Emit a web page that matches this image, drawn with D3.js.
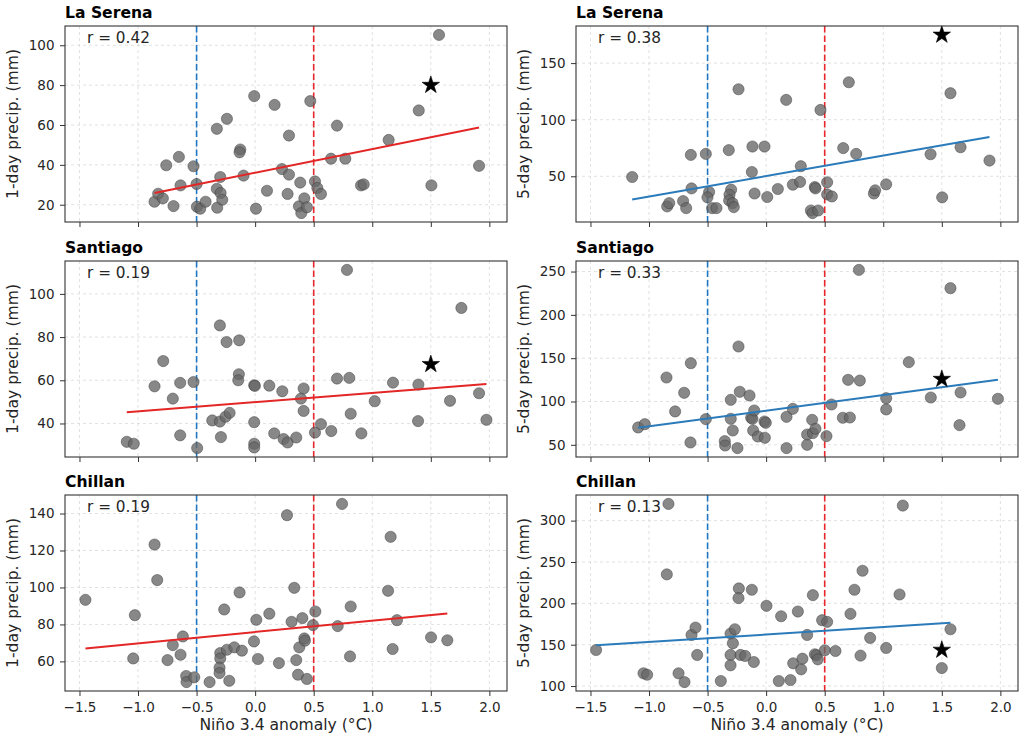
<!DOCTYPE html>
<html>
<head>
<meta charset="utf-8">
<script src="https://cdn.jsdelivr.net/npm/d3@7"></script>
<style>
  body { margin: 0; background: #fff; }
  svg { display: block; font-family: "DejaVu Sans", sans-serif; }
</style>
</head>
<body>
<svg id="chart" width="1024" height="740"></svg>
<script>
// ---------------- DATA ----------------
const stations = ["La Serena", "La Serena", "Santiago", "Santiago", "Chillan", "Chillan"];
const yLabels = ["1-day precip. (mm)", "5-day precip. (mm)", "1-day precip. (mm)", "5-day precip. (mm)", "1-day precip. (mm)", "5-day precip. (mm)"];
const rValues = ["0.42", "0.38", "0.19", "0.33", "0.19", "0.13"];
const xTicks = [-1.5, -1.0, -0.5, 0.0, 0.5, 1.0, 1.5, 2.0];
const yTicks = [
  [20, 40, 60, 80, 100],
  [50, 100, 150],
  [40, 60, 80, 100],
  [50, 100, 150, 200, 250],
  [60, 80, 100, 120, 140],
  [100, 150, 200, 250, 300]
];
const laNinaThreshold = -0.5;
const elNinoThreshold = 0.5;

const laSerena1day = [
  [-0.859,21.5],[-0.828,25.5],[-0.788,23.2],[-0.759,39.8],[-0.697,19.3],[-0.651,44.0],[-0.637,29.7],
  [-0.526,39.3],[-0.500,30.4],[-0.497,19.0],[-0.469,18.0],[-0.423,21.5],[-0.327,58.1],[-0.327,28.0],
  [-0.324,18.5],[-0.298,33.9],[-0.295,25.9],[-0.281,22.5],[-0.241,63.1],[-0.127,47.7],[-0.133,46.3],
  [-0.099,34.6],[-0.008,74.5],[0.007,18.0],[0.101,27.0],[0.166,70.1],[0.229,37.9],[0.289,54.7],
  [0.289,35.1],[0.277,25.4],[0.385,31.1],[0.374,19.2],[0.394,15.8],[0.420,23.2],[0.442,18.7],
  [0.471,72.0],[0.511,31.7],[0.531,28.4],[0.562,25.4],[0.648,43.1],[0.699,59.7],[0.770,43.1],
  [0.904,29.7],[0.927,30.2],[1.140,52.5],[1.397,67.3],[1.505,29.7],[1.570,105.2],[1.912,39.5]
];
const laSerena5day = [
  [-1.144,49.4],[-0.845,23.4],[-0.828,26.3],[-0.709,28.1],[-0.683,21.9],[-0.643,68.9],[-0.637,39.3],
  [-0.515,69.8],[-0.487,36.1],[-0.501,31.4],[-0.461,21.9],[-0.424,21.9],[-0.319,73.1],[-0.299,38.2],
  [-0.313,33.7],[-0.316,28.7],[-0.287,26.3],[-0.276,22.8],[-0.236,126.9],[-0.117,76.3],[-0.122,53.8],
  [-0.099,34.8],[-0.014,76.3],[0.009,31.7],[0.100,38.8],[0.171,117.5],[0.228,42.6],[0.290,45.0],
  [0.296,58.9],[0.416,40.5],[0.421,39.3],[0.382,19.8],[0.396,17.5],[0.444,19.8],[0.464,108.6],
  [0.521,44.7],[0.521,34.0],[0.561,32.2],[0.658,74.9],[0.706,133.1],[0.769,69.8],[0.920,34.8],
  [0.931,37.6],[1.025,42.9],[1.404,69.5],[1.503,31.4],[1.574,123.4],[1.660,75.7],[1.907,63.9]
];
const santiago1day = [
  [-1.096,31.5],[-1.036,30.6],[-0.859,57.2],[-0.785,68.9],[-0.703,51.5],[-0.640,58.8],[-0.640,34.5],
  [-0.526,59.2],[-0.495,28.6],[-0.366,41.4],[-0.301,85.4],[-0.301,40.9],[-0.292,33.7],[-0.253,43.1],
  [-0.244,77.7],[-0.218,44.9],[-0.136,78.5],[-0.139,62.8],[-0.144,60.0],[-0.008,57.7],[-0.002,57.4],
  [-0.008,40.6],[-0.008,30.6],[-0.008,28.9],[0.121,57.5],[0.163,35.4],[0.232,54.9],[0.243,32.8],
  [0.277,31.2],[0.351,33.5],[0.391,51.5],[0.414,56.2],[0.414,45.8],[0.511,35.8],[0.562,39.7],
  [0.650,36.5],[0.699,60.8],[0.784,111.1],[0.804,61.1],[0.816,44.5],[0.907,35.4],[1.021,50.3],
  [1.177,58.9],[1.394,58.0],[1.391,41.1],[1.664,50.5],[1.761,93.5],[1.912,54.0],[1.975,41.7]
];
const santiago5day = [
  [-1.093,70.0],[-1.036,73.8],[-0.851,127.7],[-0.777,88.5],[-0.700,110.0],[-0.643,144.2],[-0.646,52.7],
  [-0.515,79.6],[-0.353,54.2],[-0.350,49.2],[-0.302,101.9],[-0.302,80.0],[-0.285,66.5],[-0.236,163.5],
  [-0.225,111.2],[-0.245,46.2],[-0.142,106.9],[-0.128,81.2],[-0.117,80.0],[-0.102,89.6],[-0.111,66.5],
  [-0.071,59.6],[-0.014,76.9],[-0.003,75.4],[-0.011,58.1],[0.174,82.3],[0.228,91.5],[0.174,46.2],
  [0.350,50.0],[0.350,61.9],[0.393,78.8],[0.399,63.5],[0.421,68.5],[0.515,60.0],[0.558,96.5],
  [0.655,81.2],[0.715,81.5],[0.700,125.0],[0.800,124.2],[0.792,251.9],[1.025,103.8],[1.025,90.8],
  [1.218,145.4],[1.406,104.6],[1.574,230.8],[1.660,110.4],[1.651,72.7],[1.979,103.1]
];
const chillan1day = [
  [-1.449,93.3],[-1.041,61.6],[-1.027,85.0],[-0.859,123.2],[-0.836,104.0],[-0.748,60.7],[-0.703,68.8],
  [-0.637,63.6],[-0.617,73.5],[-0.589,52.1],[-0.586,48.8],[-0.520,51.4],[-0.389,48.8],[-0.298,64.5],
  [-0.298,61.6],[-0.304,56.6],[-0.304,53.7],[-0.264,88.1],[-0.241,66.3],[-0.221,49.5],[-0.178,67.6],
  [-0.133,97.3],[-0.113,65.8],[-0.010,70.8],[0.010,82.5],[0.024,61.3],[0.121,85.8],[0.203,59.1],
  [0.272,139.1],[0.311,81.4],[0.334,99.8],[0.351,60.7],[0.366,52.8],[0.377,67.6],[0.403,83.4],
  [0.420,72.4],[0.425,71.2],[0.442,50.5],[0.514,87.0],[0.494,79.6],[0.705,79.1],[0.742,145.2],
  [0.810,62.7],[0.816,89.7],[1.135,98.2],[1.157,127.4],[1.174,66.7],[1.211,82.3],[1.502,73.0],[1.641,71.4]
];
const chillan5day = [
  [-1.452,143.6],[-1.047,115.4],[-1.016,113.7],[-0.848,235.0],[-0.834,320.2],[-0.748,115.4],[-0.697,104.8],
  [-0.637,161.8],[-0.603,170.7],[-0.589,137.6],[-0.387,106.1],[-0.304,163.4],[-0.267,168.7],[-0.284,151.7],
  [-0.304,137.6],[-0.304,125.1],[-0.233,218.0],[-0.236,206.3],[-0.219,137.6],[-0.179,136.4],[-0.122,216.4],
  [-0.105,129.1],[0.003,197.0],[0.108,106.1],[0.128,184.4],[0.208,107.3],[0.231,127.5],[0.271,190.1],
  [0.299,120.2],[0.310,133.1],[0.350,161.8],[0.399,209.9],[0.416,138.4],[0.430,137.2],[0.441,132.3],
  [0.478,179.6],[0.521,177.6],[0.501,143.2],[0.592,142.4],[0.720,187.3],[0.754,216.4],[0.806,136.8],
  [0.823,239.4],[0.888,158.2],[1.025,146.1],[1.139,210.7],[1.167,318.2],[1.500,121.8],[1.574,168.7]
];
const panelData = [laSerena1day, laSerena5day, santiago1day, santiago5day, chillan1day, chillan5day];

// Highlighted event (star marker): [x, y] or null
const starPoints = [[1.5, 80.0], [1.5, 174.9], [1.5, 67.4], [1.5, 125.8], null, [1.5, 143.6]];

// Linear fit: [slope, intercept]
const fitLines = [[11.84, 36.07], [18.1, 50.2], [4.25, 49.9], [18.03, 89.3], [6.12, 75.9], [8.95, 162.3]];

// ---------------- STYLE / LAYOUT ----------------
const colLeft = [65, 576];
const panelW = 442;
const rowTop = [26, 261, 495];
const panelH = 196;
const fitColors = ["#e32626", "#2b7bba"];
const blueLine = "#1f77c4";
const redLine = "#e8262b";
const textColor = "#262626";

const svg = d3.select("#chart");

// shared x domain with 5% margins
const allX = panelData.flat().map(d => d[0]);
const xMin = d3.min(allX), xMax = d3.max(allX);
const xPad = (xMax - xMin) * 0.05;
const xDomain = [xMin - xPad, xMax + xPad];

panelData.forEach((data, i) => {
  const col = i % 2, row = Math.floor(i / 2);
  const left = colLeft[col], top = rowTop[row];
  const g = svg.append("g").attr("transform", `translate(${left},${top})`);

  const ys = data.map(d => d[1]).concat(starPoints[i] ? [starPoints[i][1]] : []);
  const yMin = d3.min(ys), yMax = d3.max(ys);
  const yPad = (yMax - yMin) * 0.05;

  const x = d3.scaleLinear().domain(xDomain).range([0, panelW]);
  const y = d3.scaleLinear().domain([yMin - yPad, yMax + yPad]).range([panelH, 0]);

  // grid
  const grid = g.append("g").attr("class", "grid");
  grid.selectAll("line.gx").data(xTicks).join("line")
    .attr("x1", d => x(d)).attr("x2", d => x(d)).attr("y1", 0).attr("y2", panelH)
    .attr("stroke", "#d9d9d9").attr("stroke-width", 0.8).attr("stroke-dasharray", "3,3");
  grid.selectAll("line.gy").data(yTicks[i]).join("line")
    .attr("x1", 0).attr("x2", panelW).attr("y1", d => y(d)).attr("y2", d => y(d))
    .attr("stroke", "#d9d9d9").attr("stroke-width", 0.8).attr("stroke-dasharray", "3,3");

  // threshold lines
  [[laNinaThreshold, blueLine], [elNinoThreshold, redLine]].forEach(([v, c]) => {
    g.append("line").attr("x1", x(v)).attr("x2", x(v)).attr("y1", 0).attr("y2", panelH)
      .attr("stroke", c).attr("stroke-width", 1.6).attr("stroke-dasharray", "6.5,3");
  });

  // points
  g.append("g").selectAll("circle").data(data).join("circle")
    .attr("cx", d => x(d[0])).attr("cy", d => y(d[1])).attr("r", 5.6)
    .attr("fill", "#666666").attr("fill-opacity", 0.78)
    .attr("stroke", "#3a3a3a").attr("stroke-opacity", 0.6).attr("stroke-width", 0.8);

  // fit line
  const [m, b] = fitLines[i];
  const xe = d3.extent(data, d => d[0]);
  g.append("line")
    .attr("x1", x(xe[0])).attr("y1", y(m * xe[0] + b))
    .attr("x2", x(xe[1])).attr("y2", y(m * xe[1] + b))
    .attr("stroke", fitColors[col]).attr("stroke-width", 2);

  // star
  if (starPoints[i]) {
    g.append("path")
      .attr("d", d3.symbol(d3.symbolStar, 95)())
      .attr("transform", `translate(${x(starPoints[i][0])},${y(starPoints[i][1])})`)
      .attr("fill", "#000").attr("stroke", "#000").attr("stroke-width", 0.6);
  }

  // axes
  const yAxis = d3.axisLeft(y).tickValues(yTicks[i]).tickSize(5).tickPadding(5.5).tickFormat(d3.format("d"));
  const ya = g.append("g").call(yAxis);
  const xAxis = d3.axisBottom(x).tickValues(xTicks).tickSize(5).tickPadding(6)
    .tickFormat(row === 2 ? d3.format(".1f") : () => "");
  const xa = g.append("g").attr("transform", `translate(0,${panelH})`).call(xAxis);
  [ya, xa].forEach(a => {
    a.attr("font-family", null);
    a.select(".domain").remove();
    a.selectAll(".tick line").attr("stroke", "#333").attr("stroke-width", 1);
    a.selectAll(".tick text").attr("fill", textColor).style("font-size", "13.5px");
  });

  // frame
  g.append("rect").attr("width", panelW).attr("height", panelH)
    .attr("fill", "none").attr("stroke", "#333").attr("stroke-width", 1.1);

  // r text
  g.append("text").attr("x", 22).attr("y", 16.5).attr("fill", textColor)
    .style("font-size", "15.3px").text(`r = ${rValues[i]}`);

  // title
  g.append("text").attr("x", 0).attr("y", -8).attr("fill", "#000")
    .style("font-size", "15.6px").style("font-weight", "bold").text(stations[i]);

  // y label
  g.append("text")
    .attr("transform", `translate(${-47},${panelH / 2}) rotate(-90)`)
    .attr("text-anchor", "middle").attr("fill", textColor)
    .style("font-size", "15.6px").text(yLabels[i]);

  // x label
  if (row === 2) {
    g.append("text").attr("x", panelW / 2).attr("y", panelH + 39)
      .attr("text-anchor", "middle").attr("fill", textColor)
      .style("font-size", "15.6px").text("Niño 3.4 anomaly (°C)");
  }
});
</script>
</body>
</html>
